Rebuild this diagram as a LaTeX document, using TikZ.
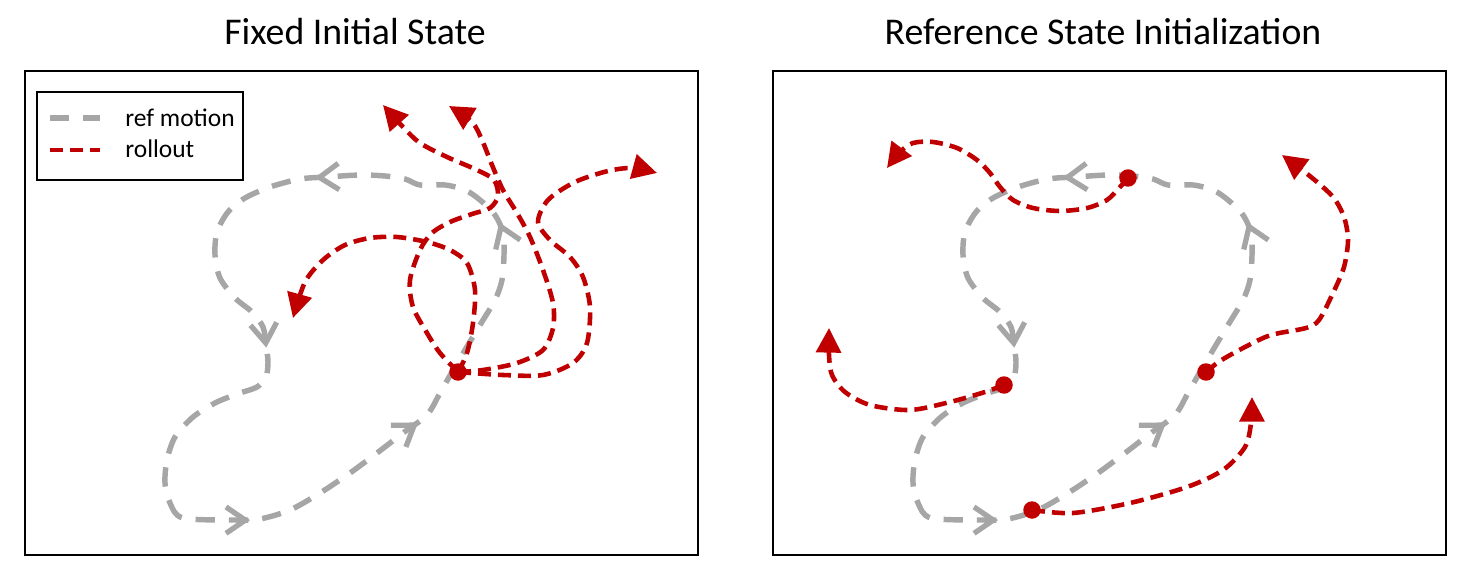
\documentclass[tikz,border=0pt]{standalone}
\usepackage{fontspec}
\setmainfont{Carlito}
\usepackage{xcolor}
\usepackage{tikz}
\usetikzlibrary{arrows.meta, decorations.markings}
\definecolor{refgray}{RGB}{166,166,166}
\definecolor{rollred}{RGB}{192,0,0}
\newcommand{\refchev}{\draw[refgray, line width=3pt, solid] (-11pt,-7.5pt) -- (0pt,0pt) -- (-11pt,7.5pt);}

\begin{document}
\begin{tikzpicture}[x=0.02cm, y=-0.02cm,
				refline/.style={draw=refgray, line width=3.1pt, dash pattern=on 11pt off 8pt},
				chevrons/.style={postaction={decorate}, decoration={markings,
					mark=at position 0.071 with {\refchev},
					mark=at position 0.239 with {\refchev},
					mark=at position 0.431 with {\refchev},
					mark=at position 0.602 with {\refchev},
					mark=at position 0.817 with {\refchev}}},
				rollout/.style={draw=rollred, line width=2.6pt, dash pattern=on 7.4pt off 4pt},
				rollarrow/.style={-{Triangle[length=14pt, width=14pt]}},
				dot/.style={circle, fill=rollred, inner sep=0pt, minimum size=0.35cm},
				panel/.style={draw=black, line width=1.2pt},
				legend/.style={draw=black, line width=1pt},
				ttl/.style={anchor=base, font=\fontsize{21.5}{26}\selectfont},
				lbl/.style={anchor=base west, inner sep=0pt, font=\fontsize{14.5}{17}\selectfont}]
				\useasboundingbox (0,0) rectangle (1466,574);
				\node at (355,45) (ttlfix) [ttl] {Fixed Initial State};
				\node at (1103,45) (ttlref) [ttl] {Reference State Initialization};
				\draw[panel] (25,71) rectangle (698,555);
				\draw[panel] (773,71) rectangle (1446,555);
				\foreach \dx in {0,748} {
					\begin{scope}[shift={(\dx,0)}]
						\draw[refline, chevrons] plot[smooth cycle] coordinates {(165,483) (170,503) (183,518) (235,520) (260,519) (290,510) (320,493) (350,473) (377,453) (403,433) (427,415) (440,393) (452,372) (465,350) (480,325) (495,300) (502,280) (504,255) (503,233) (495,215) (480,200) (465,190) (445,185) (420,185) (405,179) (385,176) (360,175) (327,177) (300,179) (270,187) (245,198) (228,212) (217,232) (215,255) (220,278) (235,298) (252,312) (263,327) (266,345) (268,362) (266,377) (257,387) (237,394) (215,403) (193,417) (175,437) (167,460)};
					\end{scope}
				}
				\draw[legend] (37,92) rectangle (243,180);
				\draw[refline] (50,118) -- (100,118);
				\draw[rollout] (50,150) -- (100,150);
				\node at (125,127) (lgref) [lbl] {ref motion};
				\node at (125,158) (lgroll) [lbl] {rollout};
				\node at (458,372) (s0) [dot] {};
				\coordinate (e1) at (383,105);
				\coordinate (e2) at (449,106);
				\coordinate (e3) at (657,173);
				\coordinate (e4) at (293,318);
				\draw[rollout, rollarrow] plot[smooth] coordinates {(s0.center) (440,353) (427,333) (413,307) (410,280) (420,250) (432,233) (450,222) (472,214) (490,208) (498,196) (494,180) (477,170) (447,157) (420,143) (403,127) (e1)};
				\draw[rollout, rollarrow] plot[smooth] coordinates {(s0.center) (483,370) (517,363) (543,350) (553,328) (553,303) (543,270) (530,237) (517,213) (503,190) (492,165) (482,140) (472,122) (e2)};
				\draw[rollout, rollarrow] plot[smooth] coordinates {(s0.center) (503,375) (543,375) (573,363) (587,343) (590,307) (583,277) (570,257) (550,240) (538,222) (548,200) (575,182) (608,171) (633,168) (e3)};
				\draw[rollout, rollarrow] plot[smooth] coordinates {(s0.center) (467,353) (473,323) (475,290) (467,263) (450,250) (427,242) (397,237) (370,238) (345,245) (323,260) (305,282) (e4)};
				\node at (1128,178) (r1) [dot] {};
				\node at (1004,385) (r2) [dot] {};
				\node at (1206,372) (r3) [dot] {};
				\node at (1032,510) (r4) [dot] {};
				\coordinate (f1) at (887,168);
				\coordinate (f2) at (829,328);
				\coordinate (f3) at (1282,155);
				\coordinate (f4) at (1252,397);
				\draw[rollout, rollarrow] plot[smooth] coordinates {(r1.center) (1120,187) (1107,200) (1087,208) (1060,211) (1033,208) (1013,200) (1000,187) (990,173) (977,160) (957,148) (933,142) (913,143) (900,152) (f1)};
				\draw[rollout, rollarrow] plot[smooth] coordinates {(r2.center) (985,392) (950,402) (910,410) (870,405) (845,392) (832,375) (829,355) (f2)};
				\draw[rollout, rollarrow] plot[smooth] coordinates {(r3.center) (1220,361) (1245,347) (1271,335) (1306,328) (1319,320) (1333,293) (1344,267) (1348,240) (1344,217) (1333,197) (1311,177) (f3)};
				\draw[rollout, rollarrow] plot[smooth] coordinates {(r4.center) (1073,513) (1130,503) (1187,487) (1223,470) (1245,447) (1251,423) (f4)};
\end{tikzpicture}
\end{document}
